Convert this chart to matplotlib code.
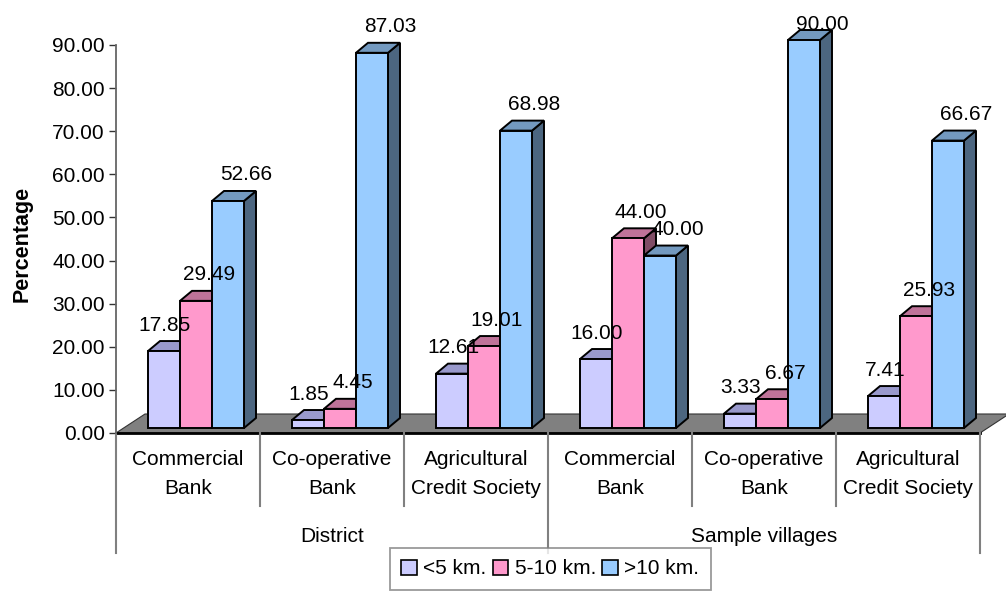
import matplotlib.pyplot as plt
from matplotlib import transforms
from matplotlib.patches import Patch
from matplotlib.ticker import FormatStrFormatter

plt.rcParams['font.family'] = ['Liberation Sans', 'DejaVu Sans']

# distance to credit agency, % of borrowers
groups = ['District', 'Sample villages']
agencies = ['Commercial\nBank', 'Co-operative\nBank', 'Agricultural\nCredit Society']
series = ['<5 km.', '5-10 km.', '>10 km.']
lt5 = [17.85, 1.85, 12.61, 16.00, 3.33, 7.41]
mid = [29.49, 4.45, 19.01, 44.00, 6.67, 25.93]
gt10 = [52.66, 87.03, 68.98, 40.00, 90.00, 66.67]

front_cols = ['#CCCCFF', '#FF99CC', '#99CCFF']
top_cols = ['#9999CC', '#BF7399', '#7399BF']
side_cols = ['#666699', '#804D66', '#4C6680']

W, H = 1006, 591
FS = 15
fig = plt.figure(figsize=(W / 100, H / 100), dpi=100)
ax = fig.add_axes([116 / W, 1 - 433 / H, 864 / W, 388 / H])
ax.set_xlim(0, 6)
ax.set_ylim(0, 90)


def px(dx, dy):
    # pixel offset -> data offset
    inv = ax.transData.inverted()
    a = inv.transform((0, 0))
    b = inv.transform((dx, dy))
    return b[0] - a[0], b[1] - a[1]


floor_dx, floor_dy = px(29, 19)
front_dx, front_dy = px(8, 5)
depth_dx, depth_dy = px(12, 10)
bw, _ = px(32, 0)
lab_up = px(0, 26)[1]
lab_max = ax.transData.inverted().transform((0, H - 24))[1]

# floor
ax.fill([0, 6, 6 + floor_dx, floor_dx], [0, 0, floor_dy, floor_dy],
        facecolor='#808080', edgecolor='#333333', lw=0.8, clip_on=False, zorder=1)
ax.plot([0, 6], [0, 0], color='black', lw=2, clip_on=False, zorder=2)

ncat = len(lt5)
label_dx = [1, 13, 18]
for j, vals in enumerate([lt5, mid, gt10]):
    xs = [i + 0.5 + (j - 1.5) * bw + front_dx for i in range(ncat)]
    for x0, h in zip(xs, vals):
        yb = front_dy
        yt = front_dy + h
        ax.fill([x0 + bw, x0 + bw + depth_dx, x0 + bw + depth_dx, x0 + bw],
                [yb, yb + depth_dy, yt + depth_dy, yt],
                facecolor=side_cols[j], edgecolor='black', lw=1.4,
                clip_on=False, zorder=3 + 3 * j)
        ax.fill([x0, x0 + bw, x0 + bw + depth_dx, x0 + depth_dx],
                [yt, yt, yt + depth_dy, yt + depth_dy],
                facecolor=top_cols[j], edgecolor='black', lw=1.4,
                clip_on=False, zorder=4 + 3 * j)
        ax.annotate(f'{h:.2f}', xy=(x0 + bw / 2, min(yt + lab_up, lab_max)),
                    xytext=(label_dx[j] * 0.72, 0), textcoords='offset points',
                    ha='center', va='center', fontsize=FS, zorder=20,
                    annotation_clip=False)
    ax.bar(xs, vals, width=bw, bottom=front_dy, align='edge', clip_on=False,
           color=front_cols[j], edgecolor='black', lw=1.4, zorder=5 + 3 * j)

# value axis
for s in ['top', 'right', 'bottom']:
    ax.spines[s].set_visible(False)
ax.spines['left'].set_color('#666666')
ax.spines['left'].set_linewidth(1.3)
ax.set_yticks(range(0, 91, 10))
ax.yaxis.set_major_formatter(FormatStrFormatter('%.2f'))
ax.tick_params(axis='y', length=5, width=1, color='#333333', labelsize=FS, pad=3)
ax.set_xticks([])
fig.text(22 / W, 1 - 244 / H, 'Percentage', rotation=90, fontweight='bold',
         fontsize=15.5, ha='center', va='center')

# two-level category axis
blend = transforms.blended_transform_factory(ax.transData, fig.transFigure)
for k in range(ncat + 1):
    low = 553 if k % 3 == 0 else 506
    ax.plot([k, k], [1 - 433 / H, 1 - low / H], transform=blend,
            color='#808080', lw=1.5, clip_on=False)
for i, name in enumerate(agencies * 2):
    ax.text(i + 0.5, 1 - 474 / H, name, transform=blend, ha='center', va='center',
            fontsize=FS, linespacing=1.7)
for g, name in enumerate(groups):
    ax.text(3 * g + 1.5, 1 - 537 / H, name, transform=blend, ha='center',
            va='center', fontsize=FS)

handles = [Patch(facecolor=c, edgecolor='black', lw=1.2) for c in front_cols]
leg = fig.legend(handles, series, loc='upper left', bbox_to_anchor=(390 / W, 1 - 548 / H),
                 ncol=3, fontsize=FS, frameon=True, fancybox=False, borderaxespad=0,
                 handlelength=0.75, handleheight=0.75, handletextpad=0.3,
                 columnspacing=0.3, borderpad=0.55)
leg.get_frame().set_edgecolor('#808080')
leg.get_frame().set_linewidth(1.3)

fig.savefig('out.png', dpi=100)
